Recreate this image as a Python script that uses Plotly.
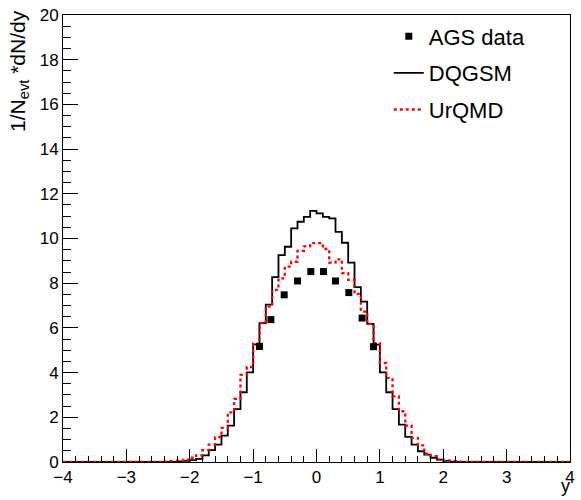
import plotly.graph_objects as go

# ---- data ----
bin_edges = [round(-4.0 + 0.1 * i, 1) for i in range(81)]   # 80 bins of width 0.1

zeros_side = [0.0] * 15  # bins -4.0..-2.5 and 2.5..4.0 are empty

dqgsm_central = [  # bins -2.5 .. 2.5
    0.00, 0.00, 0.01, 0.03, 0.05, 0.08, 0.14, 0.30, 0.53, 0.78,
    1.18, 1.63, 2.37, 3.12, 4.01, 5.26, 6.21, 7.04, 8.27, 9.26,
    9.63, 10.45, 10.75, 10.97, 11.24, 11.12, 10.97, 10.90, 10.30, 9.81,
    8.92, 7.82, 7.18, 6.18, 5.25, 4.01, 3.12, 2.37, 1.67, 1.12,
    0.78, 0.48, 0.33, 0.19, 0.11, 0.05, 0.02, 0.01, 0.00, 0.00,
]
urqmd_central = [  # bins -2.5 .. 2.5
    0.01, 0.02, 0.04, 0.06, 0.11, 0.19, 0.30, 0.53, 0.78, 1.11,
    1.53, 2.22, 2.82, 3.90, 4.25, 5.30, 6.21, 6.95, 7.70, 8.22,
    8.74, 8.96, 9.45, 9.65, 9.79, 9.79, 9.53, 8.92, 9.07, 8.45,
    8.15, 7.52, 6.73, 6.18, 5.32, 4.43, 3.76, 2.94, 2.27, 1.63,
    1.08, 0.74, 0.37, 0.26, 0.11, 0.07, 0.04, 0.02, 0.01, 0.00,
]
dqgsm_values = zeros_side + dqgsm_central + zeros_side
urqmd_values = zeros_side + urqmd_central + zeros_side

ags_y = [-0.90, -0.72, -0.51, -0.30, -0.09, 0.11, 0.30, 0.51, 0.72, 0.90]
ags_dndy = [5.17, 6.37, 7.48, 8.10, 8.52, 8.52, 8.10, 7.58, 6.44, 5.16]

x_ticks = [-4, -3, -2, -1, 0, 1, 2, 3, 4]
y_ticks = [0, 2, 4, 6, 8, 10, 12, 14, 16, 18, 20]

FONT = "Liberation Sans"
TICK_SIZE = 17

fig = go.Figure()

fig.add_trace(go.Scatter(
    x=bin_edges, y=dqgsm_values + [dqgsm_values[-1]],
    mode="lines", line=dict(shape="hv", color="black", width=1.8),
    name="DQGSM", legendrank=2, legendgroup="b",
))
fig.add_trace(go.Scatter(
    x=bin_edges, y=urqmd_values + [urqmd_values[-1]],
    mode="lines", line=dict(shape="hv", color="#ff0000", width=2.3, dash="3px,3px"),
    name="UrQMD", legendrank=3, legendgroup="c",
))
fig.add_trace(go.Scatter(
    x=ags_y, y=ags_dndy, mode="markers",
    marker=dict(symbol="square", size=7, color="black"),
    name="AGS data", legendrank=1, legendgroup="a",
))

L, R, T, B = 63, 6, 14.5, 37.5
W, H = 581, 500
pw, ph = W - L - R, H - T - B

def px_x(p):
    return (p - L) / pw

def px_y(p):
    return (H - B - p) / ph

fig.update_layout(
    width=W, height=H,
    margin=dict(l=L, r=R, t=T, b=B),
    paper_bgcolor="white", plot_bgcolor="white",
    font=dict(family=FONT, size=TICK_SIZE, color="black"),
    showlegend=True,
    legend=dict(
        x=px_x(392), y=px_y(15), xanchor="left", yanchor="top",
        bgcolor="rgba(0,0,0,0)", borderwidth=0,
        font=dict(family=FONT, size=22, color="black"),
        tracegroupgap=5,
    ),
    xaxis=dict(
        range=[-4, 4], tickvals=x_ticks, ticktext=[("−" + str(-v)) if v < 0 else str(v) for v in x_ticks],
        ticks="inside", ticklen=13, tickwidth=1, tickcolor="black",
        minor=dict(dtick=0.2, tick0=0, ticks="inside", ticklen=6.5, tickwidth=1, tickcolor="black"),
        showline=True, linecolor="black", linewidth=1, mirror=True,
        showgrid=False, zeroline=False,
        tickfont=dict(family=FONT, size=TICK_SIZE),
    ),
    yaxis=dict(
        range=[0, 20], tickvals=y_ticks,
        ticks="inside", ticklen=15, tickwidth=1, tickcolor="black",
        minor=dict(dtick=0.5, tick0=0, ticks="inside", ticklen=7.5, tickwidth=1, tickcolor="black"),
        showline=True, linecolor="black", linewidth=1, mirror=True,
        showgrid=False, zeroline=False,
        tickfont=dict(family=FONT, size=TICK_SIZE),
    ),
    annotations=[
        dict(text="1/N<sub>evt</sub> *dN/dy", textangle=-90, xref="paper", yref="paper",
             x=px_x(18), y=px_y(7), xanchor="center", yanchor="top", showarrow=False,
             font=dict(family=FONT, size=21)),
        dict(text="y", xref="paper", yref="paper", x=px_x(577), y=px_y(499),
             xanchor="right", yanchor="bottom", showarrow=False,
             font=dict(family=FONT, size=18)),
    ],
)

fig.write_html("out.html")
